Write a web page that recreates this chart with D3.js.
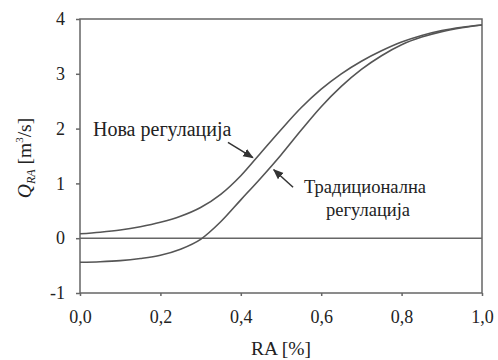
<!DOCTYPE html>
<html><head><meta charset="utf-8">
<script src="https://cdn.jsdelivr.net/npm/d3@7"></script>
<style>body{margin:0;background:#fff}svg{display:block}</style>
</head><body><svg id="c" width="498" height="360"></svg>
<script>
const raValues = [0,0.05,0.1,0.15,0.2,0.25,0.3,0.35,0.4,0.45,0.5,0.55,0.6,0.65,0.7,0.75,0.8,0.85,0.9,0.95,1.0];
const novaRegulacija = [0.08,0.11,0.15,0.21,0.29,0.40,0.56,0.80,1.14,1.56,1.98,2.38,2.72,3.0,3.23,3.42,3.58,3.7,3.79,3.85,3.89];
const tradicionalna = [-0.44,-0.43,-0.41,-0.37,-0.31,-0.2,-0.02,0.3,0.7,1.1,1.52,1.97,2.4,2.77,3.08,3.33,3.53,3.67,3.77,3.84,3.89];
const xTicks = [0,0.2,0.4,0.6,0.8,1.0];
const yTicks = [-1,0,1,2,3,4];
const labelNova = "Нова регулација";
const labelTrad = ["Традиционална","регулација"];

const FONT = "'Liberation Serif','Times New Roman','DejaVu Serif',serif";
const svg = d3.select("#c");
const m = {l:80, r:482, t:19, b:293};
const x = d3.scaleLinear().domain([0,1]).range([m.l, m.r]);
const y = d3.scaleLinear().domain([-1,4]).range([m.b, m.t]);
const stroke = "#666";

svg.append("rect").attr("x",m.l).attr("y",m.t).attr("width",m.r-m.l).attr("height",m.b-m.t)
  .attr("fill","none").attr("stroke",stroke).attr("stroke-width",1.5);

const fmt = d => d.toFixed(1).replace(".",",");
const xAxis = svg.append("g").attr("transform",`translate(0,${m.b})`)
  .call(d3.axisBottom(x).tickValues(xTicks).tickFormat(fmt).tickSize(3).tickPadding(14));
const yAxis = svg.append("g").attr("transform",`translate(${m.l},0)`)
  .call(d3.axisLeft(y).tickValues(yTicks).tickFormat(d=>d).tickSize(4).tickPadding(11));
[xAxis,yAxis].forEach(a=>{
  a.attr("font-family",FONT).attr("font-size",18);
  a.select(".domain").remove();
  a.selectAll("line").attr("stroke",stroke).attr("stroke-width",1.5);
  a.selectAll("text").attr("fill","#222");
});

svg.append("line").attr("x1",m.l).attr("x2",m.r).attr("y1",y(0)).attr("y2",y(0))
  .attr("stroke",stroke).attr("stroke-width",1.5);

const line = d3.line().x((d,i)=>x(raValues[i])).y(d=>y(d)).curve(d3.curveMonotoneX);
[novaRegulacija, tradicionalna].forEach(s=>{
  svg.append("path").attr("d",line(s)).attr("fill","none").attr("stroke","#555").attr("stroke-width",1.6);
});

const T = (xx,yy,fs) => svg.append("text").attr("x",xx).attr("y",yy).attr("font-family",FONT).attr("font-size",fs||20).attr("fill","#222");
T((m.l+m.r)/2,355,19.5).attr("text-anchor","middle").text("RA [%]");
const yt = svg.append("text").attr("transform","translate(31,158) rotate(-90)").attr("text-anchor","middle")
  .attr("font-family",FONT).attr("font-size",19.5).attr("fill","#222");
yt.append("tspan").attr("font-style","italic").text("Q");
yt.append("tspan").attr("font-style","italic").attr("font-size",12).attr("dy",4).text("RA");
yt.append("tspan").attr("dy",-4).text(" [m");
yt.append("tspan").attr("font-size",11).attr("dy",-8).text("3");
yt.append("tspan").attr("dy",8).text("/s]");

svg.append("defs").append("marker").attr("id","ah").attr("viewBox","0 0 10 10").attr("refX",9).attr("refY",5)
  .attr("markerWidth",7).attr("markerHeight",7).attr("orient","auto")
  .append("path").attr("d","M0,1 L10,5 L0,9 Z").attr("fill","#333");
T(93,136).text(labelNova);
svg.append("line").attr("x1",x(0.368)).attr("y1",y(1.75)).attr("x2",x(0.43)).attr("y2",y(1.47))
  .attr("stroke","#333").attr("stroke-width",1.5).attr("marker-end","url(#ah)");
T(365,193,18.5).attr("text-anchor","middle").text(labelTrad[0]);
T(368,216,18.5).attr("text-anchor","middle").text(labelTrad[1]);
svg.append("line").attr("x1",x(0.53)).attr("y1",y(0.93)).attr("x2",x(0.482)).attr("y2",y(1.25))
  .attr("stroke","#333").attr("stroke-width",1.5).attr("marker-end","url(#ah)");
</script></body></html>
